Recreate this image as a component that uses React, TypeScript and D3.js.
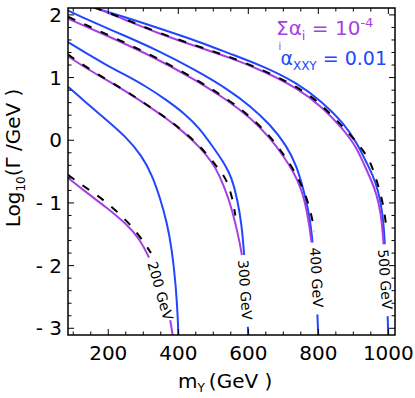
import * as d3 from "d3";

const W = 415;
const H = 398;
const PLOT = { left: 68, right: 395, top: 8, bottom: 335 };
const BLUE = "#2146ff";
const PURPLE = "#a63fe3";
const FONT = "DejaVu Sans";

// tick labels
const xTickValues = [200, 400, 600, 800, 1000];
const xTickLabels = ["200", "400", "600", "800", "1000"];
const yTickValues = [2, 1, 0, -1, -2, -3];
const yTickLabels = ["2", "1", "0", "- 1", "- 2", "- 3"];
const massLabels = ["200 GeV", "300 GeV", "400 GeV", "500 GeV"];

// [m_Y, log10 Gamma]
const blue200 = [[86, 0.851], [136, 0.604], [193, 0.333], [251, 0.053], [296, -0.25], [325, -0.553], [348, -0.92], [368, -1.319], [382, -1.75], [393, -2.309], [399, -2.867], [400.5, -3.15]];
const purple200 = [[85, -0.6], [136, -0.826], [193, -1.065], [251, -1.33], [289, -1.569], [317, -1.872], [340, -2.17], [362, -2.52], [376, -2.82], [385, -3.15]];
const dashed200 = [[85, -0.55], [118, -0.69], [170, -0.879], [222, -1.118], [270, -1.384], [308, -1.676], [322, -1.8]];

const blue300 = [[85, 1.565], [136, 1.391], [193, 1.206], [251, 1.035], [308, 0.86], [365, 0.648], [422, 0.408], [460, 0.195], [498, -0.097], [527, -0.33], [546, -0.523], [557, -0.692], [568, -0.93], [581, -1.33], [589, -1.87], [595, -2.45], [600, -3.15]];
const purple300 = [[85, 1.34], [136, 1.152], [193, 0.967], [251, 0.78], [308, 0.568], [365, 0.354], [413, 0.142], [460, -0.097], [498, -0.364], [515, -0.53], [543, -0.9], [567, -1.4], [584, -1.865], [592, -2.3]];
const dashed300 = [[85, 1.37], [110, 1.27], [170, 1.05], [250, 0.79], [308, 0.575], [365, 0.36], [413, 0.15], [460, -0.08], [498, -0.33], [515, -0.46], [538, -0.62], [555, -0.93], [563, -1.2]];

const blue400 = [[85, 2.07], [150, 1.9], [250, 1.66], [331, 1.46], [450, 1.12], [548, 0.79], [605, 0.548], [662, 0.256], [710, -0.09], [738, -0.41], [757, -0.77], [774, -1.165], [784, -1.618], [792, -2.2], [797, -2.7], [800, -3.15]];
const purple400 = [[85, 1.94], [200, 1.66], [331, 1.325], [450, 0.96], [548, 0.61], [605, 0.361], [662, 0.042], [700, -0.25], [729, -0.5], [753, -0.793], [769, -1.165], [781, -1.618], [788, -2.05], [793, -2.5]];
const dashed400 = [[85, 1.97], [120, 1.88], [200, 1.68], [331, 1.34], [450, 0.98], [548, 0.63], [605, 0.38], [662, 0.07], [700, -0.22], [733, -0.5], [755, -0.75], [776, -1.07], [789, -1.45]];

const blue500 = [[150, 2.13], [250, 1.96], [365, 1.75], [460, 1.57], [548, 1.38], [643, 1.18], [738, 0.92], [814, 0.6], [871, 0.28], [910, -0.04], [938, -0.36], [955, -0.55], [971, -0.8], [984, -1.165], [990, -1.62], [994, -2.2], [998, -2.8], [1000, -3.15]];
const purple500 = [[155, 2.13], [250, 1.92], [331, 1.73], [460, 1.48], [548, 1.319], [643, 1.106], [738, 0.84], [814, 0.52], [871, 0.176], [910, -0.12], [930, -0.38], [950, -0.62], [966, -0.85], [979, -1.165], [986, -1.6], [991, -2.1]];
const dashed500 = [[160, 2.12], [250, 1.93], [331, 1.74], [460, 1.49], [548, 1.33], [643, 1.12], [748, 0.83], [805, 0.59], [870, 0.22], [900, 0.03], [943, -0.26], [962, -0.553], [986, -1.005], [995, -1.43]];

// where the mass labels sit: [m_Y, log10 Gamma, angle, box length]
const labelSpots = [[325, -1.94, 74, 66], [585, -1.91, 86, 72], [790.6, -1.71, 87, 72], [985, -1.74, 86, 72]];

export default function App() {
  const x = d3.scaleLinear().domain([85, 1019]).range([PLOT.left, PLOT.right]);
  const y = d3.scaleLinear().domain([-3.107, 2.11]).range([PLOT.bottom, PLOT.top]);

  const line = d3
    .line<number[]>()
    .x((d) => x(d[0]))
    .y((d) => y(d[1]))
    .curve(d3.curveBasis);

  const curves = [
    { pts: blue200, color: BLUE, dash: null },
    { pts: blue300, color: BLUE, dash: null },
    { pts: blue400, color: BLUE, dash: null },
    { pts: blue500, color: BLUE, dash: null },
    { pts: purple200, color: PURPLE, dash: null },
    { pts: purple300, color: PURPLE, dash: null },
    { pts: purple400, color: PURPLE, dash: null },
    { pts: purple500, color: PURPLE, dash: null },
    { pts: dashed200, color: "#000", dash: "8,10" },
    { pts: dashed300, color: "#000", dash: "8,10" },
    { pts: dashed400, color: "#000", dash: "8,10" },
    { pts: dashed500, color: "#000", dash: "8,10" },
  ];

  const xMinor = d3.range(100, 1001, 50);
  const yMinor = d3.range(-3, 2.01, 0.2);

  return (
    <svg
      width={W}
      height={H}
      style={{ position: "absolute", left: 0, top: 0, background: "#fff" }}
      fontFamily={FONT}
    >
      <defs>
        <clipPath id="plotclip">
          <rect x={PLOT.left} y={PLOT.top} width={PLOT.right - PLOT.left} height={PLOT.bottom - PLOT.top} />
        </clipPath>
      </defs>

      <g clipPath="url(#plotclip)">
        {curves.map((c, i) => (
          <path
            key={i}
            d={line(c.pts) || ""}
            fill="none"
            stroke={c.color}
            strokeWidth={2}
            strokeDasharray={c.dash || undefined}
          />
        ))}
        {massLabels.map((lab, i) => {
          const [lx, ly, ang, len] = labelSpots[i];
          return (
            <g key={lab} transform={`translate(${x(lx)},${y(ly)}) rotate(${ang})`}>
              <rect x={-5} y={-6.5} width={len} height={12.5} fill="#fff" />
              <text x={0} y={5} fontSize={14} fill="#000">{lab}</text>
            </g>
          );
        })}
      </g>

      {/* ticks */}
      <g stroke="#000" strokeWidth={1}>
        {xMinor.map((v) => {
          const major = v % 200 === 0;
          const l = major ? 6 : 3.5;
          return (
            <g key={"x" + v}>
              <line x1={x(v)} x2={x(v)} y1={PLOT.bottom} y2={PLOT.bottom - l} />
              <line x1={x(v)} x2={x(v)} y1={PLOT.top} y2={PLOT.top + l} />
            </g>
          );
        })}
        {yMinor.map((v) => {
          const major = Math.abs(v - Math.round(v)) < 1e-6;
          const l = major ? 6 : 3.5;
          return (
            <g key={"y" + v.toFixed(1)}>
              <line x1={PLOT.left} x2={PLOT.left + l} y1={y(v)} y2={y(v)} />
              <line x1={PLOT.right} x2={PLOT.right - l} y1={y(v)} y2={y(v)} />
            </g>
          );
        })}
      </g>

      <rect
        x={PLOT.left}
        y={PLOT.top}
        width={PLOT.right - PLOT.left}
        height={PLOT.bottom - PLOT.top}
        fill="none"
        stroke="#000"
        strokeWidth={1.5}
      />

      {/* tick labels */}
      {xTickValues.map((v, i) => (
        <text key={"xl" + v} x={x(v)} y={360} fontSize={20} textAnchor="middle" fill="#000">
          {xTickLabels[i]}
        </text>
      ))}
      {yTickValues.map((v, i) => (
        <text key={"yl" + v} x={62} y={y(v) + 7} fontSize={20} textAnchor="end" fill="#000">
          {yTickLabels[i]}
        </text>
      ))}

      {/* axis titles */}
      <text x={178} y={388} fontSize={20} fill="#000">
        m
        <tspan fontSize={12} dy={4}>Y</tspan>
        <tspan dy={-4} dx={4}>(GeV )</tspan>
      </text>
      <text transform="translate(20,158) rotate(-90)" textAnchor="middle" fontSize={20} fill="#000">
        Log
        <tspan fontSize={12} dy={5}>10</tspan>
        <tspan dy={-5}>(Γ /GeV )</tspan>
      </text>

      {/* legend */}
      <text x={276} y={35} fontSize={20} fill={PURPLE}>
        Σα
        <tspan fontSize={13} dy={5}>i</tspan>
        <tspan dy={-5}> = 10</tspan>
        <tspan fontSize={13} dy={-8}>-4</tspan>
      </text>
      <text x={278.5} y={50} fontSize={10} fill={PURPLE}>i</text>
      <text x={387} y={65} fontSize={19} textAnchor="end" fill={BLUE}>
        α
        <tspan fontSize={12} dy={5}>XXY</tspan>
        <tspan dy={-5}> = 0.01</tspan>
      </text>
    </svg>
  );
}
